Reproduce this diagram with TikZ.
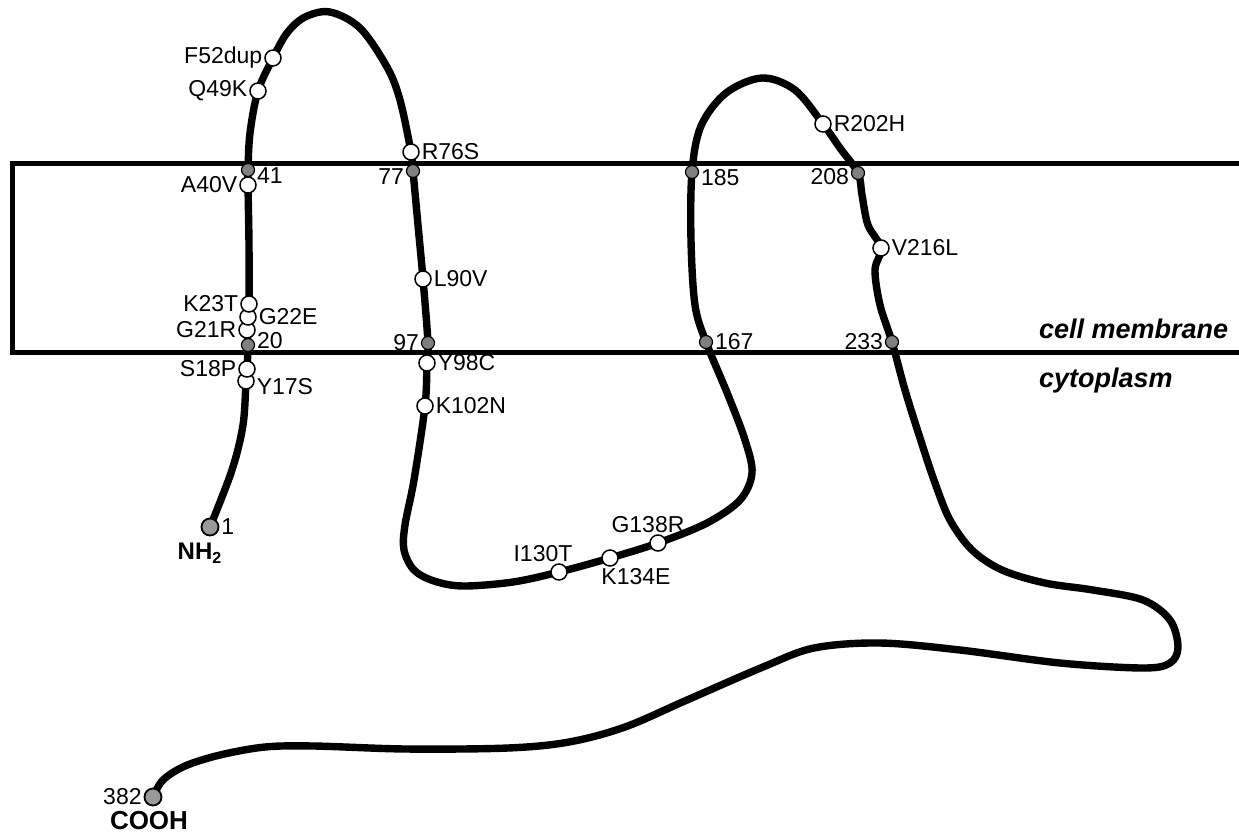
\documentclass[tikz,border=0pt]{standalone}
\usepackage{fontspec}
\setmainfont{Liberation Sans}
\usetikzlibrary{positioning,backgrounds}

\begin{document}
\begin{tikzpicture}[x=0.5pt,y=-0.5pt,
        font=\fontsize{11.5}{13}\selectfont,
        mut/.style={draw,circle,fill=white,inner sep=0pt,minimum size=8pt,line width=0.75pt},
        tmd/.style={draw,circle,fill=gray,inner sep=0pt,minimum size=6.5pt,line width=0.6pt},
        term/.style={draw,circle,fill=gray!80,inner sep=0pt,minimum size=8.5pt,line width=0.9pt},
        backbone/.style={line width=3.7pt,line cap=round,line join=round},
        membrane/.style={line width=2.5pt},
        label distance=0pt,
        every label/.style={inner sep=0.8pt}]
    \useasboundingbox (0,0) rectangle (1239,837);
    % N terminus and first helix
    \node (nterm) [term, label=right:1] at (210,527) {};
    \node (nh2) [below=0pt of nterm, xshift=-5pt, font=\fontsize{12}{14}\selectfont\bfseries] {NH\textsubscript{2}};
    \node (y17s) [mut, label={[yshift=-3pt]right:Y17S}] at (246,381) {};
    \node (s18p) [mut, label=left:S18P] at (247,369) {};
    \node (r20) [tmd, label={[yshift=2pt]right:20}] at (248,345) {};
    \node (g21r) [mut, label=left:G21R] at (247,330) {};
    \node (g22e) [mut, label=right:G22E] at (248,317) {};
    \node (k23t) [mut, label=left:K23T] at (249,304) {};
    \node (a40v) [mut, label=left:A40V] at (248,185) {};
    \node (r41) [tmd, label={[yshift=-3pt]right:41}] at (248,170) {};
    \node (q49k) [mut, label=left:Q49K] at (258,91) {};
    \node (f52dup) [mut, label=left:F52dup] at (273,58) {};
    % second helix and loop
    \node (r76s) [mut, label=right:R76S] at (411,152) {};
    \node (r77) [tmd, label={[yshift=-3pt]left:77}] at (413,171) {};
    \node (l90v) [mut, label=right:L90V] at (423,279) {};
    \node (r97) [tmd, label=left:97] at (428,343) {};
    \node (y98c) [mut, label=right:Y98C] at (427,363) {};
    \node (k102n) [mut, label=right:K102N] at (425,406) {};
    \node (i130t) [mut, label={[xshift=-8pt]above:I130T}] at (559,572) {};
    \node (k134e) [mut, label={[xshift=13pt]below:K134E}] at (610,558) {};
    \node (g138r) [mut, label={[xshift=-5pt]above:G138R}] at (658,543) {};
    % third and fourth helix
    \node (r167) [tmd, label=right:167] at (706,342) {};
    \node (r185) [tmd, label={[yshift=-3pt]right:185}] at (692,172) {};
    \node (r202h) [mut, label=right:R202H] at (823,124) {};
    \node (r208) [tmd, label={[yshift=-2pt]left:208}] at (858,173) {};
    \node (v216l) [mut, label=right:V216L] at (881,248) {};
    \node (r233) [tmd, label=left:233] at (892,342) {};
    % C terminus
    \node (cterm) [term, label=left:382] at (153,797) {};
    \node (cooh) [below=-1pt of cterm, xshift=-2pt, font=\fontsize{13}{15}\selectfont\bfseries] {COOH};
    \node (memtxt) [anchor=base west, font=\fontsize{13.5}{16}\selectfont\bfseries\itshape] at (1032,338) {cell membrane};
    \node (cytotxt) [below=24.5pt of memtxt.base west, anchor=base west, font=\fontsize{13.5}{16}\selectfont\bfseries\itshape] {cytoplasm};
    \begin{scope}[on background layer]
        \draw[membrane] (12,163) rectangle (1260,352);
        \draw[backbone] plot[smooth,tension=0.55] coordinates {
            (nterm.center) (232,470) (243,425) (y17s.center) (s18p.center) (r20.center)
            (g21r.center) (g22e.center) (k23t.center) (249,245) (a40v.center) (r41.center)
            (250,133) (q49k.center) (f52dup.center) (287,33) (305,17) (330,12) (360,28)
            (387,67) (400,100) (r76s.center) (r77.center) (418,225) (l90v.center)
            (r97.center) (y98c.center) (k102n.center) (414,480) (405,525) (404,550)
            (414,570) (434,581) (463,586) (513,582) (i130t.center) (k134e.center) (g138r.center)
            (707,523) (740,500) (752,473) (745,440) (728,395) (r167.center) (695,305)
            (691,240) (r185.center) (701,126) (726,93) (762,78) (795,90) (r202h.center)
            (840,148) (r208.center) (862,195) (868,225) (v216l.center) (875,270) (880,305)
            (r233.center) (905,390) (920,438) (935,483) (950,520) (972,550) (1002,570)
            (1045,583) (1093,590) (1143,600) (1170,620) (1178,647) (1170,663) (1143,668)
            (1060,663) (960,650) (880,643) (814,648) (763,667) (687,700) (625,727)
            (569,742) (508,748) (406,749) (314,746) (265,747) (220,755) (185,766)
            (163,780) (cterm.center)};
    \end{scope}
\end{tikzpicture}
\end{document}
